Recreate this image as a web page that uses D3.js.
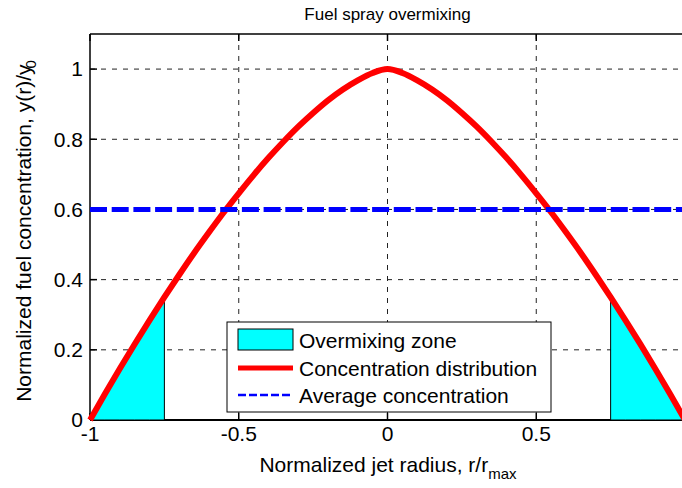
<!DOCTYPE html>
<html>
<head>
<meta charset="utf-8">
<script src="https://cdn.jsdelivr.net/npm/d3@7"></script>
<style>
    body { margin: 0; background: #fff; }
    svg { display: block; font-family: "Liberation Sans", Arial, Helvetica, sans-serif; }
</style>
</head>
<body>
<div id="chart"></div>
<script>
// values
const radius = [
    -1, -0.95, -0.9, -0.85, -0.8, -0.75, -0.7, -0.65, -0.6, -0.55,
    -0.5, -0.45, -0.4, -0.35, -0.3, -0.25, -0.2, -0.15, -0.1, -0.05,
    0,
    0.05, 0.1, 0.15, 0.2, 0.25, 0.3, 0.35, 0.4, 0.45,
    0.5, 0.55, 0.6, 0.65, 0.7, 0.75, 0.8, 0.85, 0.9, 0.95, 1
];
const concentration = [
    0, 0.074, 0.146, 0.216, 0.284, 0.350, 0.414, 0.476, 0.535, 0.592,
    0.646, 0.698, 0.747, 0.793, 0.836, 0.875, 0.911, 0.942, 0.968, 0.989,
    1,
    0.989, 0.968, 0.942, 0.911, 0.875, 0.836, 0.793, 0.747, 0.698,
    0.646, 0.592, 0.535, 0.476, 0.414, 0.350, 0.284, 0.216, 0.146, 0.074, 0
];
const averageConcentration = 0.6;
const zoneStart = [-1, 0.75];
const zoneEnd = [-0.75, 1];

const xTicks = [-1, -0.5, 0, 0.5];
const yTicks = [0, 0.2, 0.4, 0.6, 0.8, 1];
const legendLabels = ["Overmixing zone", "Concentration distribution", "Average concentration"];

const width = 682;
const height = 488;
const fontSize = 21;
const tickLen = 7;

const svg = d3.select("#chart")
    .append("svg")
    .attr("width", width)
    .attr("height", height);

// the axes box runs past the right side of the picture
const x = d3.scaleLinear().domain([-1, 1]).range([90, 685]);
const y = d3.scaleLinear().domain([0, 1.1]).range([420, 34]);

const points = radius.map((r, i) => ({ r, c: concentration[i] }));

// grid
const grid = svg.append("g")
    .attr("stroke", "#222")
    .attr("stroke-width", 1)
    .attr("stroke-dasharray", "5,6");

grid.selectAll(".vgrid")
    .data(xTicks.filter(d => d !== -1))
    .enter()
    .append("line")
    .attr("x1", d => x(d))
    .attr("x2", d => x(d))
    .attr("y1", y(1.1))
    .attr("y2", y(0));

grid.selectAll(".hgrid")
    .data(yTicks.filter(d => d !== 0))
    .enter()
    .append("line")
    .attr("x1", x(-1))
    .attr("x2", x(1))
    .attr("y1", d => y(d))
    .attr("y2", d => y(d));

// frame and ticks
const frame = svg.append("g")
    .attr("stroke", "#000")
    .attr("stroke-width", 1.5);

frame.append("line").attr("x1", x(-1)).attr("x2", x(-1)).attr("y1", y(1.1)).attr("y2", y(0));
frame.append("line").attr("x1", x(-1)).attr("x2", x(1)).attr("y1", y(1.1)).attr("y2", y(1.1));
frame.append("line").attr("x1", x(-1)).attr("x2", x(1)).attr("y1", y(0)).attr("y2", y(0)).attr("stroke-width", 2);

frame.selectAll(".ytick")
    .data(yTicks)
    .enter()
    .append("line")
    .attr("x1", x(-1))
    .attr("x2", x(-1) + tickLen)
    .attr("y1", d => y(d))
    .attr("y2", d => y(d));

frame.selectAll(".xtick-bottom")
    .data(xTicks)
    .enter()
    .append("line")
    .attr("x1", d => x(d))
    .attr("x2", d => x(d))
    .attr("y1", y(0))
    .attr("y2", y(0) - tickLen);

frame.selectAll(".xtick-top")
    .data(xTicks)
    .enter()
    .append("line")
    .attr("x1", d => x(d))
    .attr("x2", d => x(d))
    .attr("y1", y(1.1))
    .attr("y2", y(1.1) + tickLen);

// overmixing zones
const zoneArea = d3.area()
    .x(d => x(d.r))
    .y0(y(0))
    .y1(d => y(d.c))
    .curve(d3.curveMonotoneX);

zoneStart.forEach((start, i) => {
    const zonePoints = points.filter(p => p.r >= start - 1e-9 && p.r <= zoneEnd[i] + 1e-9);
    svg.append("path")
        .datum(zonePoints)
        .attr("d", zoneArea)
        .attr("fill", "#00ffff")
        .attr("stroke", "#000")
        .attr("stroke-width", 1);
});

// concentration curve
const line = d3.line()
    .x(d => x(d.r))
    .y(d => y(d.c))
    .curve(d3.curveMonotoneX);

svg.append("path")
    .datum(points)
    .attr("d", line)
    .attr("fill", "none")
    .attr("stroke", "#ff0000")
    .attr("stroke-width", 6)
    .attr("stroke-linejoin", "round");

// average line
svg.append("line")
    .attr("x1", x(-1))
    .attr("x2", x(1))
    .attr("y1", y(averageConcentration))
    .attr("y2", y(averageConcentration))
    .attr("stroke", "#0000ff")
    .attr("stroke-width", 5)
    .attr("stroke-dasharray", "17,4.7");

// tick labels
svg.selectAll(".ylabel")
    .data(yTicks)
    .enter()
    .append("text")
    .attr("x", x(-1) - 7)
    .attr("y", d => y(d))
    .attr("dy", "0.35em")
    .attr("text-anchor", "end")
    .attr("font-size", fontSize)
    .text(d => d);

svg.selectAll(".xlabel")
    .data(xTicks)
    .enter()
    .append("text")
    .attr("x", d => x(d))
    .attr("y", 434)
    .attr("dy", "0.35em")
    .attr("text-anchor", "middle")
    .attr("font-size", fontSize)
    .text(d => d);

// title and axis labels
svg.append("text")
    .attr("x", x(0))
    .attr("y", 20)
    .attr("text-anchor", "middle")
    .attr("font-size", 17)
    .text("Fuel spray overmixing");

const xTitle = svg.append("text")
    .attr("x", 388)
    .attr("y", 472)
    .attr("text-anchor", "middle")
    .attr("font-size", fontSize)
    .text("Normalized jet radius, r/r");
xTitle.append("tspan")
    .attr("dy", 7)
    .attr("font-size", 15)
    .text("max");

const yTitle = svg.append("text")
    .attr("transform", "translate(31,231) rotate(-90)")
    .attr("text-anchor", "middle")
    .attr("font-size", fontSize)
    .text("Normalized fuel concentration, y(r)/y");
yTitle.append("tspan")
    .attr("dy", 5)
    .attr("dx", -4)
    .attr("font-size", 15)
    .text("0");

// legend
const legend = svg.append("g")
    .attr("transform", "translate(227,322)");

legend.append("rect")
    .attr("width", 324)
    .attr("height", 90)
    .attr("fill", "#fff")
    .attr("stroke", "#000")
    .attr("stroke-width", 1);

legend.append("rect")
    .attr("x", 11)
    .attr("y", 7)
    .attr("width", 55)
    .attr("height", 21)
    .attr("fill", "#00ffff")
    .attr("stroke", "#000")
    .attr("stroke-width", 1);

legend.append("line")
    .attr("x1", 11).attr("x2", 66)
    .attr("y1", 46).attr("y2", 46)
    .attr("stroke", "#ff0000")
    .attr("stroke-width", 5);

legend.append("line")
    .attr("x1", 11).attr("x2", 66)
    .attr("y1", 73).attr("y2", 73)
    .attr("stroke", "#0000ff")
    .attr("stroke-width", 2.5)
    .attr("stroke-dasharray", "8,3");

legend.selectAll(".legend-label")
    .data(legendLabels)
    .enter()
    .append("text")
    .attr("x", 72)
    .attr("y", (d, i) => 19 + i * 27.5)
    .attr("dy", "0.35em")
    .attr("font-size", fontSize)
    .text(d => d);
</script>
</body>
</html>
